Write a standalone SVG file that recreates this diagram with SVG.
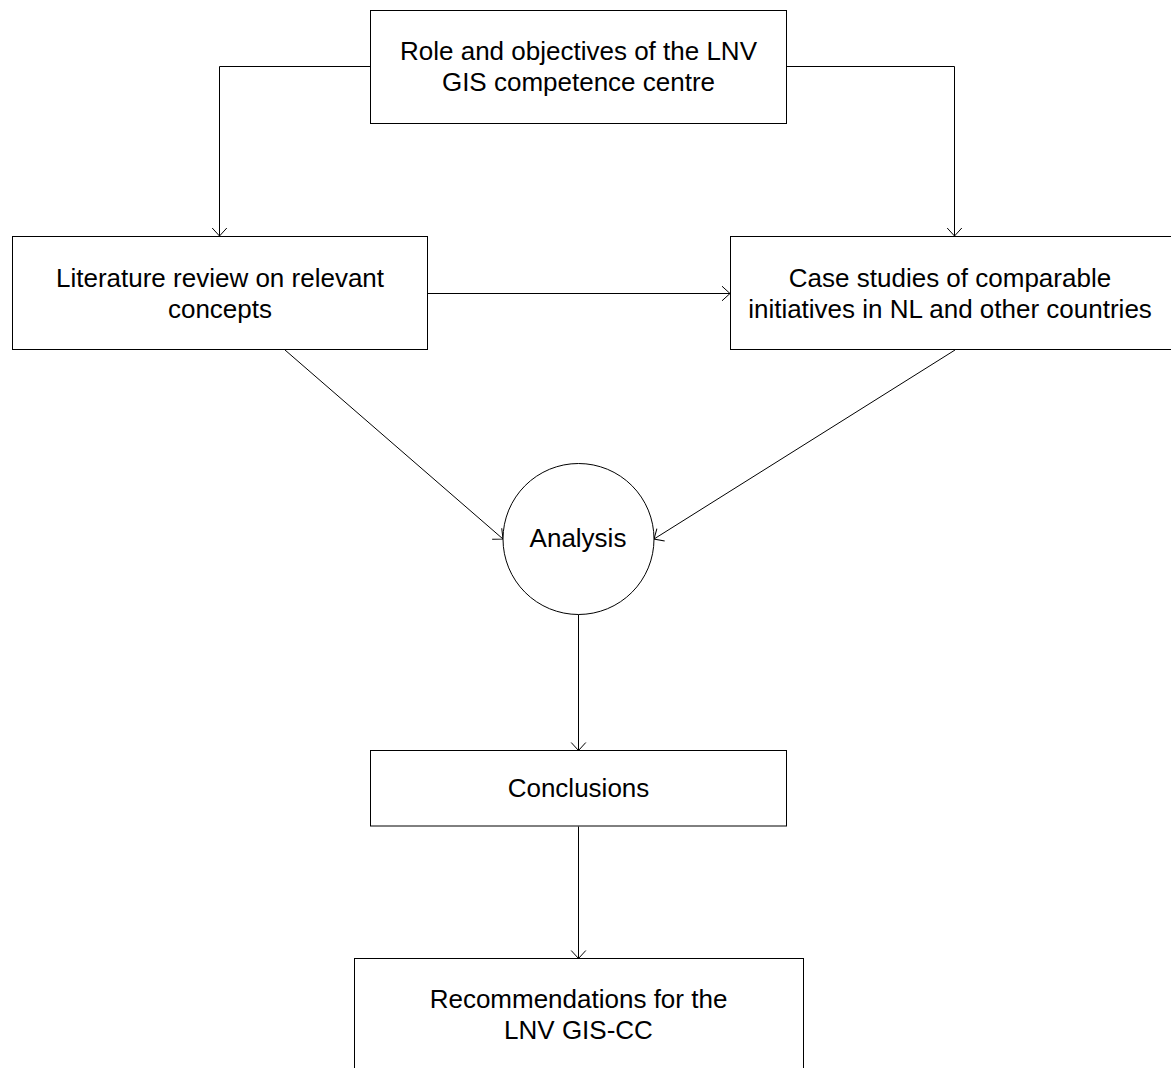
<svg xmlns="http://www.w3.org/2000/svg" width="1171" height="1068" viewBox="0 0 1171 1068">
<style>
.box{fill:#fff;stroke:#000;stroke-width:1}
.lbl{font-family:"Liberation Sans",Arial,sans-serif;font-size:26px;fill:#000;text-anchor:middle}
.edge{fill:none;stroke:#000;stroke-width:1}
</style>
<defs>
<marker id="arr" markerUnits="userSpaceOnUse" markerWidth="20" markerHeight="20" viewBox="-10 -10 20 20" refX="0" refY="0" orient="auto">
<path d="M -8 -7.3 L 0 0 L -8 7.3" fill="none" stroke="#000" stroke-width="1"/>
</marker>
</defs>
<rect width="1171" height="1068" fill="#fff"/>
<g id="connectors">
<path class="edge" d="M 370.5 66.5 H 219.5 V 236" marker-end="url(#arr)"/>
<path class="edge" d="M 786.5 66.5 H 954.5 V 236" marker-end="url(#arr)"/>
<path class="edge" d="M 428 293.5 H 730" marker-end="url(#arr)"/>
<path class="edge" d="M 285 350 L 503 539" marker-end="url(#arr)"/>
<path class="edge" d="M 955 350 L 654 539" marker-end="url(#arr)"/>
<path class="edge" d="M 578.5 614.5 V 750.5" marker-end="url(#arr)"/>
<path class="edge" d="M 578.5 826.5 V 958.5" marker-end="url(#arr)"/>
</g>
<g id="node-role">
<rect class="box" x="370.5" y="10.5" width="416" height="113"/>
<text class="lbl" x="578.5" y="60">Role and objectives of the LNV</text>
<text class="lbl" x="578.5" y="91">GIS competence centre</text>
</g>
<g id="node-literature">
<rect class="box" x="12.5" y="236.5" width="415" height="113"/>
<text class="lbl" x="220" y="287">Literature review on relevant</text>
<text class="lbl" x="220" y="318">concepts</text>
</g>
<g id="node-cases">
<rect class="box" x="730.5" y="236.5" width="450" height="113"/>
<text class="lbl" x="950" y="287">Case studies of comparable</text>
<text class="lbl" x="950" y="318">initiatives in NL and other countries</text>
</g>
<g id="node-analysis">
<circle class="box" cx="578.5" cy="539" r="75.5"/>
<text class="lbl" x="578" y="547">Analysis</text>
</g>
<g id="node-conclusions">
<rect class="box" x="370.5" y="750.5" width="416" height="75.5"/>
<text class="lbl" x="578.5" y="797">Conclusions</text>
</g>
<g id="node-recommendations">
<rect class="box" x="354.5" y="958.5" width="449" height="130"/>
<text class="lbl" x="578.5" y="1008">Recommendations for the</text>
<text class="lbl" x="578.5" y="1039">LNV GIS-CC</text>
</g>
</svg>
